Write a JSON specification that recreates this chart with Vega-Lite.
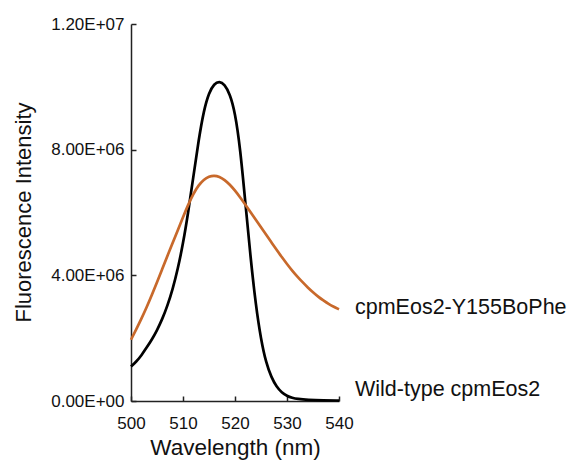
{
  "$schema": "https://vega.github.io/schema/vega-lite/v6.json",
  "autosize": "none",
  "width": 208,
  "height": 377,
  "padding": {"left": 131, "top": 24, "right": 243, "bottom": 67},
  "background": "white",
  "config": {
    "view": {"stroke": null},
    "font": "Liberation Sans",
    "axis": {"grid": false, "domainColor": "#222", "domainWidth": 1.5, "tickColor": "#222", "tickWidth": 1.5, "labelColor": "#111", "titleColor": "#111", "labelFont": "Liberation Sans", "titleFont": "Liberation Sans", "titleFontWeight": "normal"}
  },
  "datasets": {
    "spectra": [
      {"series": "Wild-type cpmEos2", "wavelength": 500, "intensity": 1100000},
      {"series": "Wild-type cpmEos2", "wavelength": 501, "intensity": 1250000},
      {"series": "Wild-type cpmEos2", "wavelength": 502, "intensity": 1450000},
      {"series": "Wild-type cpmEos2", "wavelength": 503, "intensity": 1700000},
      {"series": "Wild-type cpmEos2", "wavelength": 504, "intensity": 1950000},
      {"series": "Wild-type cpmEos2", "wavelength": 505, "intensity": 2250000},
      {"series": "Wild-type cpmEos2", "wavelength": 506, "intensity": 2600000},
      {"series": "Wild-type cpmEos2", "wavelength": 507, "intensity": 3030000},
      {"series": "Wild-type cpmEos2", "wavelength": 508, "intensity": 3550000},
      {"series": "Wild-type cpmEos2", "wavelength": 509, "intensity": 4200000},
      {"series": "Wild-type cpmEos2", "wavelength": 510, "intensity": 5000000},
      {"series": "Wild-type cpmEos2", "wavelength": 511, "intensity": 6000000},
      {"series": "Wild-type cpmEos2", "wavelength": 512, "intensity": 7150000},
      {"series": "Wild-type cpmEos2", "wavelength": 513, "intensity": 8300000},
      {"series": "Wild-type cpmEos2", "wavelength": 514, "intensity": 9250000},
      {"series": "Wild-type cpmEos2", "wavelength": 515, "intensity": 9820000},
      {"series": "Wild-type cpmEos2", "wavelength": 516, "intensity": 10100000},
      {"series": "Wild-type cpmEos2", "wavelength": 517, "intensity": 10180000},
      {"series": "Wild-type cpmEos2", "wavelength": 518, "intensity": 10080000},
      {"series": "Wild-type cpmEos2", "wavelength": 519, "intensity": 9780000},
      {"series": "Wild-type cpmEos2", "wavelength": 520, "intensity": 9200000},
      {"series": "Wild-type cpmEos2", "wavelength": 521, "intensity": 8050000},
      {"series": "Wild-type cpmEos2", "wavelength": 522, "intensity": 6300000},
      {"series": "Wild-type cpmEos2", "wavelength": 523, "intensity": 4550000},
      {"series": "Wild-type cpmEos2", "wavelength": 524, "intensity": 3050000},
      {"series": "Wild-type cpmEos2", "wavelength": 525, "intensity": 1950000},
      {"series": "Wild-type cpmEos2", "wavelength": 526, "intensity": 1200000},
      {"series": "Wild-type cpmEos2", "wavelength": 527, "intensity": 750000},
      {"series": "Wild-type cpmEos2", "wavelength": 528, "intensity": 450000},
      {"series": "Wild-type cpmEos2", "wavelength": 529, "intensity": 270000},
      {"series": "Wild-type cpmEos2", "wavelength": 530, "intensity": 160000},
      {"series": "Wild-type cpmEos2", "wavelength": 531, "intensity": 100000},
      {"series": "Wild-type cpmEos2", "wavelength": 532, "intensity": 65000},
      {"series": "Wild-type cpmEos2", "wavelength": 534, "intensity": 35000},
      {"series": "Wild-type cpmEos2", "wavelength": 537, "intensity": 20000},
      {"series": "Wild-type cpmEos2", "wavelength": 540, "intensity": 15000},
      {"series": "cpmEos2-Y155BoPhe", "wavelength": 500, "intensity": 1950000},
      {"series": "cpmEos2-Y155BoPhe", "wavelength": 501, "intensity": 2280000},
      {"series": "cpmEos2-Y155BoPhe", "wavelength": 502, "intensity": 2620000},
      {"series": "cpmEos2-Y155BoPhe", "wavelength": 503, "intensity": 2980000},
      {"series": "cpmEos2-Y155BoPhe", "wavelength": 504, "intensity": 3370000},
      {"series": "cpmEos2-Y155BoPhe", "wavelength": 505, "intensity": 3780000},
      {"series": "cpmEos2-Y155BoPhe", "wavelength": 506, "intensity": 4200000},
      {"series": "cpmEos2-Y155BoPhe", "wavelength": 507, "intensity": 4620000},
      {"series": "cpmEos2-Y155BoPhe", "wavelength": 508, "intensity": 5030000},
      {"series": "cpmEos2-Y155BoPhe", "wavelength": 509, "intensity": 5430000},
      {"series": "cpmEos2-Y155BoPhe", "wavelength": 510, "intensity": 5850000},
      {"series": "cpmEos2-Y155BoPhe", "wavelength": 511, "intensity": 6250000},
      {"series": "cpmEos2-Y155BoPhe", "wavelength": 512, "intensity": 6600000},
      {"series": "cpmEos2-Y155BoPhe", "wavelength": 513, "intensity": 6870000},
      {"series": "cpmEos2-Y155BoPhe", "wavelength": 514, "intensity": 7050000},
      {"series": "cpmEos2-Y155BoPhe", "wavelength": 515, "intensity": 7150000},
      {"series": "cpmEos2-Y155BoPhe", "wavelength": 516, "intensity": 7180000},
      {"series": "cpmEos2-Y155BoPhe", "wavelength": 517, "intensity": 7140000},
      {"series": "cpmEos2-Y155BoPhe", "wavelength": 518, "intensity": 7040000},
      {"series": "cpmEos2-Y155BoPhe", "wavelength": 519, "intensity": 6890000},
      {"series": "cpmEos2-Y155BoPhe", "wavelength": 520, "intensity": 6700000},
      {"series": "cpmEos2-Y155BoPhe", "wavelength": 521, "intensity": 6480000},
      {"series": "cpmEos2-Y155BoPhe", "wavelength": 522, "intensity": 6250000},
      {"series": "cpmEos2-Y155BoPhe", "wavelength": 523, "intensity": 6010000},
      {"series": "cpmEos2-Y155BoPhe", "wavelength": 524, "intensity": 5770000},
      {"series": "cpmEos2-Y155BoPhe", "wavelength": 525, "intensity": 5530000},
      {"series": "cpmEos2-Y155BoPhe", "wavelength": 526, "intensity": 5290000},
      {"series": "cpmEos2-Y155BoPhe", "wavelength": 527, "intensity": 5050000},
      {"series": "cpmEos2-Y155BoPhe", "wavelength": 528, "intensity": 4810000},
      {"series": "cpmEos2-Y155BoPhe", "wavelength": 529, "intensity": 4580000},
      {"series": "cpmEos2-Y155BoPhe", "wavelength": 530, "intensity": 4360000},
      {"series": "cpmEos2-Y155BoPhe", "wavelength": 531, "intensity": 4150000},
      {"series": "cpmEos2-Y155BoPhe", "wavelength": 532, "intensity": 3960000},
      {"series": "cpmEos2-Y155BoPhe", "wavelength": 533, "intensity": 3780000},
      {"series": "cpmEos2-Y155BoPhe", "wavelength": 534, "intensity": 3610000},
      {"series": "cpmEos2-Y155BoPhe", "wavelength": 535, "intensity": 3460000},
      {"series": "cpmEos2-Y155BoPhe", "wavelength": 536, "intensity": 3320000},
      {"series": "cpmEos2-Y155BoPhe", "wavelength": 537, "intensity": 3200000},
      {"series": "cpmEos2-Y155BoPhe", "wavelength": 538, "intensity": 3090000},
      {"series": "cpmEos2-Y155BoPhe", "wavelength": 539, "intensity": 3000000},
      {"series": "cpmEos2-Y155BoPhe", "wavelength": 540, "intensity": 2920000}
    ],
    "labels": [
      {"series": "cpmEos2-Y155BoPhe", "wavelength": 540, "intensity": 2960000},
      {"series": "Wild-type cpmEos2", "wavelength": 540, "intensity": 360000}
    ]
  },
  "layer": [
    {
      "data": {"name": "spectra"},
      "mark": {"type": "line", "strokeWidth": 2.7, "interpolate": "basis"},
      "encoding": {
        "x": {"field": "wavelength", "type": "quantitative", "scale": {"domain": [500, 540], "nice": false}, "axis": {"values": [500, 510, 520, 530, 540], "title": "Wavelength (nm)", "titleFontSize": 22.5, "labelFontSize": 17, "tickSize": -5, "labelPadding": 19, "labelFlush": false, "titleY": 46, "titleBaseline": "middle"}},
        "y": {"field": "intensity", "type": "quantitative", "scale": {"domain": [0, 12000000], "nice": false}, "axis": {"values": [0, 4000000, 8000000, 12000000], "title": "Fluorescence Intensity", "titleFontSize": 22, "labelFontSize": 17, "tickSize": -5, "labelPadding": 12, "labelFlush": false, "titleX": -108, "titleY": 188, "titleBaseline": "middle", "labelExpr": "replace(upper(format(datum.value, '.2e')), 'E+', 'E+0')"}},
        "color": {"field": "series", "type": "nominal", "scale": {"domain": ["Wild-type cpmEos2", "cpmEos2-Y155BoPhe"], "range": ["#000000", "#c8692b"]}, "legend": null}
      }
    },
    {
      "data": {"name": "labels"},
      "mark": {"type": "text", "align": "left", "baseline": "middle", "dx": 16, "fontSize": 21.5, "font": "Liberation Sans", "color": "#111"},
      "encoding": {
        "x": {"field": "wavelength", "type": "quantitative"},
        "y": {"field": "intensity", "type": "quantitative"},
        "text": {"field": "series"}
      }
    }
  ]
}
